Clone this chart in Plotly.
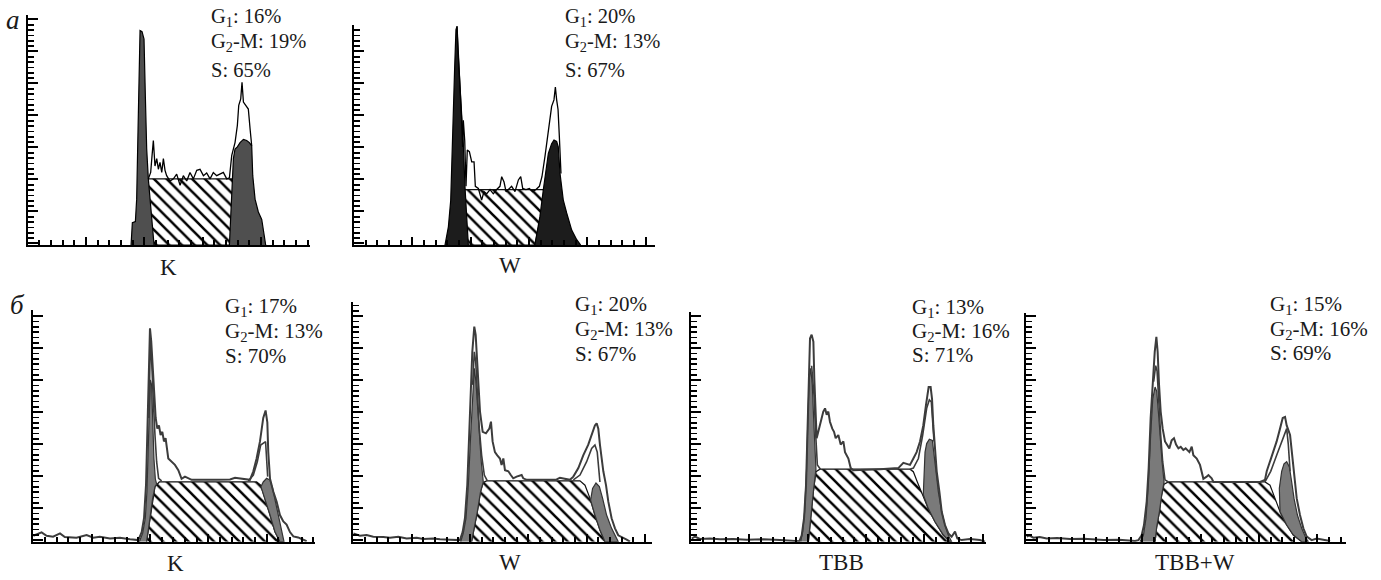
import plotly.graph_objects as go

W, H = 1381, 580

# ---------------- categories / labels ----------------
panel_names = ["K", "W", "K", "W", "TBB", "TBB+W"]
g1_pct = [16, 20, 17, 20, 13, 15]
g2m_pct = [19, 13, 13, 13, 16, 16]
s_pct = [65, 67, 70, 67, 71, 69]
row_letters = ["а", "б"]

# ---------------- panel a, K ----------------
aK_tot_x = [103.4, 105.4, 106.6, 107.7, 109.1, 110.6, 112, 113.4, 114.9, 116.3, 117.7, 119.1, 122, 124.9, 127.7, 130.6,
            133.4, 136.3, 139.1, 142, 144.9, 147.7, 150.6, 153.4, 156.3, 159.1, 162, 164.9, 167.7, 170.6, 172.9, 174.9,
            177.7, 179.7, 180.9, 182.6, 183.7, 184.9, 187.1, 189.1, 190.6, 192]
aK_tot_y = [62, 68, 84, 98, 74, 81, 71, 77.5, 68, 81, 70, 65, 60, 62, 66.5, 56, 65, 60, 68, 62, 70, 71, 65, 67.5, 62,
            68, 65, 66.5, 68, 62, 63, 84, 96, 112, 131, 137, 152.5, 134, 131, 127.5, 109, 93]
aK_g1_x = [88.6, 89.7, 92.3, 93.4, 94.6, 95.7, 96.3, 98, 99.7, 100.9, 102, 103.4, 108.3]
aK_g1_y = [0, 21, 22, 43, 110, 170, 201, 200, 193, 137, 90, 62, 0]
aK_g2_x = [172.9, 174.9, 176.3, 177.7, 179.7, 182, 184.9, 187.7, 190, 192, 192.9, 194.9, 197.7, 200.6, 202, 204]
aK_g2_y = [0, 49, 81, 90, 92, 96, 99, 98, 96, 93, 65, 43, 31, 24, 15, 0]
aK_s_x = [103.4, 179.1, 173.4, 108.3]
aK_s_y = [62, 62, 0, 0]

# ---------------- panel a, W ----------------
aW_tot_x = [88.3, 89.1, 90.3, 91.4, 92.3, 93.1, 93.7, 94.9, 96, 97.1, 98.9, 100.9, 102.9, 104, 106.6, 109.4, 111.4,
            113.7, 116.6, 119.4, 122.3, 125.1, 126.6, 128.6, 130.3, 132.3, 135.1, 138, 140.9, 142.9, 144.6, 147.4,
            150.3, 153.1, 156, 158.9, 161.1, 163.7, 166.6, 169.4, 171.4, 172.6, 173.7, 174.9, 176, 176.6, 177.4]
aW_tot_y = [205, 183, 161, 136, 117, 92, 117, 98, 55, 89, 87.5, 78, 78, 55, 53, 42, 50, 48, 52, 48, 52, 55, 64, 59,
            50, 52, 55, 50, 61, 64, 53, 52, 53, 50, 52, 55, 64, 83, 105, 130, 136, 148, 136, 127, 102, 89, 67]
aW_g1_x = [78, 80.9, 82.9, 84, 85.1, 86.3, 87.4, 88.3, 89.1, 90.3, 91.4, 92.6, 93.7, 95.1, 96.6, 98]
aW_g1_y = [0, 17, 42, 89, 136, 167, 202, 205, 183, 161, 136, 111, 95, 55, 30, 0]
aW_g2_x = [155, 159.4, 162.3, 164.6, 166.6, 169.4, 171.4, 173.7, 175.1, 176.6, 179.4, 182.3, 186.6, 190.9, 194.3]
aW_g2_y = [0, 27, 52, 73, 86, 95, 98.4, 97, 92, 67, 42, 30, 14, 5, 0]
aW_s_x = [95.1, 164.6, 155.1, 98]
aW_s_y = [52, 52, 0, 0]

# ---------------- panel б, K ----------------
bK_tot_x = [0, 2.9, 7.1, 11.4, 17, 22.9, 27, 37, 45.7, 51.4, 57, 65.7, 74.3, 82.9, 90, 92.9, 94.9, 96.6, 97.7, 98.9,
            100, 101.1, 102.3, 103.4, 104.9, 106.3, 107.7, 109.1, 110.6, 112, 113.4, 115.7, 118.6, 121.4, 124.3, 127.1,
            130, 135.7, 157, 168.6, 172.9, 185.7, 188.6, 191.4, 194.3, 195.7, 197.1, 199.1, 200.6, 201.4, 202.9,
            205.7, 208.6, 211.4, 214.3, 217.1, 220, 222.9, 227, 230, 234.3]
bK_tot_y = [5.6, 7, 8.75, 5.6, 4.7, 7.8, 4.4, 3.75, 6.25, 3.75, 4.7, 3, 3.75, 2.2, 1.5, 9, 22, 53, 100, 162, 200,
            187.5, 162, 137.5, 116, 106, 109, 100, 103, 94, 97, 78, 75, 72, 67, 59, 61, 58, 58, 58.4, 60, 58, 66, 78,
            94, 103, 116, 123, 112, 84, 59, 47, 37.5, 25, 19, 16, 9, 5, 4, 2.5, 0.6]
bK_g1fit_x = [99.1, 99.7, 100.3, 100.9, 101.7, 102.9, 104.3, 105.7, 107.4, 110]
bK_g1fit_y = [116, 162.5, 187.5, 184, 159, 131, 100, 75, 59.4, 57]
bK_g2fit_x = [184.3, 188.6, 192, 194.9, 199.1, 200, 200.9]
bK_g2fit_y = [57, 62.5, 75, 90.6, 93.75, 81, 61]
bK_g1_x = [90.9, 93.7, 96, 97.4, 98.6, 99.4, 100.3, 101.4, 102.3, 103.4, 104.6, 105.7, 104.3, 102.3, 100, 97.1]
bK_g1_y = [0, 7.8, 22, 47, 90.6, 128, 151.6, 147, 109, 78, 59, 54, 51.6, 40.6, 22, 0]
bK_g2_x = [195.1, 197.1, 200, 202.9, 205.1, 207.4, 210, 212.3, 214.3, 214.9, 211.4, 207.1, 202.9, 198.6, 195.1]
bK_g2_y = [51.6, 56, 59.4, 57.8, 50, 37.5, 23.4, 12.5, 3, 0, 0, 9.4, 25, 40.6, 51.6]
bK_s_x = [97.1, 100, 102.3, 104.3, 108, 191.4, 194.9, 198.6, 202.9, 207.1, 211.4]
bK_s_y = [0, 22, 40.6, 51.6, 56, 56, 53, 40.6, 25, 9.4, 0]

# ---------------- panel б, W ----------------
bW_tot_x = [0, 2.9, 5.7, 11.4, 17.1, 25.7, 31.4, 38.6, 45.7, 54.3, 60, 68.6, 74.3, 82.9, 90, 91.4, 93.7, 95.7, 97.7,
            100, 102, 103.7, 104.9, 105.7, 107.1, 108.6, 110.9, 113.7, 116.6, 118, 119.4, 121.4, 123.4, 125.7, 127.1,
            128.6, 130, 132.9, 135, 137.1, 140, 144.3, 145.7, 148.6, 174.3, 177.1, 185.7, 188.6, 192.9, 197.1, 201.4,
            204.3, 207.1, 208.6, 210, 211.4, 214.3, 216.6, 218.6, 221.4, 224.3, 227.1, 231.4, 234.3, 237.1]
bW_tot_y = [7.8, 6.9, 5.6, 6.25, 4.7, 4.4, 3.75, 4.7, 3, 3.75, 2.5, 3, 2.2, 1.9, 1.5, 1.5, 9, 22, 53, 116, 178,
            201.6, 194, 178, 147, 122, 103, 101.6, 106, 112.5, 94, 84, 81, 78, 72, 78, 67, 66, 62.5, 59.4, 61, 62.5,
            59.4, 58, 58.4, 60, 58, 61, 69, 81, 91, 100, 109, 111, 106, 91, 66, 53, 37.5, 22, 12.5, 6, 4, 2, 0]
bW_g1fit_x = [102.3, 103.7, 104.9, 106.3, 108, 110, 112.3, 114.9]
bW_g1fit_y = [147, 178, 169, 137.5, 106, 81, 62.5, 57]
bW_g2fit_x = [188.6, 194.3, 200, 204.3, 207.1, 209.1, 211.4]
bW_g2fit_y = [58, 62.5, 75, 87.5, 90.6, 84, 56]
bW_g1_x = [92, 94.3, 96.6, 98.6, 100.6, 102.3, 103.7, 105.1, 106.6, 108, 109.7, 111.4, 109.1, 106.3, 103.7, 101.4]
bW_g1_y = [0, 8, 22, 53, 100, 141, 162.5, 150, 122, 97, 75, 56, 47, 28, 12.5, 0]
bW_g2_x = [203.4, 205.1, 208, 210.9, 213.7, 217.1, 221.4, 225.1, 227.1, 215.7, 211.4, 207.1, 203.4]
bW_g2_y = [39, 50, 55, 51.6, 40.6, 25, 12.5, 4.7, 0, 0, 11, 25, 39]
bW_s_x = [101.4, 103.7, 106.3, 109.1, 111.4, 114.3, 194.3, 198.6, 202.9, 207.1, 211.4, 215.7]
bW_s_y = [0, 12.5, 28, 47, 55.6, 57, 57, 53, 40.6, 25, 11, 0]

# ---------------- panel б, TBB ----------------
bT_tot_x = [0.6, 3.4, 7.7, 16.3, 24.9, 36.3, 47.7, 62, 76.3, 87.7, 92.9, 94.9, 96.9, 98.6, 100, 100.9, 102, 103.4,
            104.9, 105.7, 106.6, 107.7, 109.1, 110.6, 112, 113.4, 114.9, 116.3, 117.7, 119.1, 121.1, 122.6, 124, 126.3,
            128.3, 130.6, 132, 134.9, 136.9, 139.1, 162, 177.7, 182, 187.7, 190.6, 193.4, 196.3, 199.1, 201.4, 202.6,
            203.7, 205.4, 206.6, 207.7, 209.1, 210.6, 212.9, 214.9, 217.7, 220.6, 223.4, 226.3, 228.3, 232, 239.1,
            247.7, 252]
bT_tot_y = [3, 4.7, 2.5, 3, 2.2, 2.5, 1.9, 2.2, 1.5, 1.25, 0.5, 6, 22, 53, 116, 162.5, 190.6, 194, 187.5, 153, 116,
            97, 103, 109, 116, 122, 125, 119, 122, 112.5, 106, 103, 97, 100, 91, 94, 84, 78, 69, 67, 68, 69, 74, 72,
            78, 84, 94, 109, 128, 137.5, 145, 145, 134, 109, 87.5, 66, 47, 28, 15.6, 7.8, 4.7, 9.4, 3, 1.5, 2.5, 1.5, 0]
bT_g1fit_x = [103.4, 105.4, 106.9, 108.3, 111]
bT_g1fit_y = [165, 137.5, 100, 72, 68]
bT_g2fit_x = [187.7, 190.6, 194.9, 198.6, 202, 204.3, 206, 207.1, 208.3]
bT_g2fit_y = [68, 69, 78, 100, 125, 133, 131, 116, 94]
bT_g1_x = [94, 95.7, 97.4, 99.1, 100.3, 101.4, 102.6, 104, 105.1, 106.3, 107.1, 104.9, 102.9, 101.4, 100.6]
bT_g1_y = [0, 9.4, 28, 69, 122, 153, 162.5, 147, 116, 91, 68, 47, 25, 9.4, 0]
bT_g2_x = [199.1, 199.7, 200.6, 202, 204.3, 206.9, 208.3, 210, 212, 214.9, 217.7, 220.6, 223.4, 222, 216.3, 209.1,
           203.4, 199.1]
bT_g2_y = [44, 66, 84, 92, 96, 95, 84, 66, 47, 28, 15.6, 6, 0, 0, 6.25, 18.75, 31, 44]
bT_s_x = [100.6, 101.4, 102.9, 104.9, 107.1, 110.6, 187.7, 190.6, 194, 198.6, 203.4, 209.1, 216.3, 222]
bT_s_y = [0, 9.4, 25, 47, 65.6, 68, 68, 65.6, 56, 43.75, 31, 18.75, 6.25, 0]

# ---------------- panel б, TBB+W ----------------
bTW_tot_x = [0.9, 3, 6.6, 12, 18, 27, 38, 50, 66.6, 80, 93.7, 96.6, 99.4, 101.4, 103.7, 105.4, 107.1, 108.9, 110.6,
             112, 113.1, 114.3, 115.7, 117.4, 119.4, 123.1, 125.1, 127.1, 128.9, 130.9, 132.9, 135.1, 137.1, 140.3,
             142.3, 143.7, 146.6, 149.4, 152.3, 155.1, 156.6, 159.4, 160.9, 200.9, 205.1, 206.6, 209.4, 212.3, 215.1,
             218, 220.3, 222.3, 223.7, 226.6, 228, 230, 232.3, 235.1, 238, 240.9, 245.1, 249.4, 255.1, 260.9]
bTW_tot_y = [4.7, 6, 3.75, 4.4, 3, 3.4, 2.5, 2.8, 1.5, 1.9, 0.6, 1.5, 6, 15.6, 37.5, 69, 116, 153, 178, 192, 178,
             147, 122, 106, 94, 87.5, 95, 97, 91, 87.5, 89, 86, 87.5, 84, 89, 81, 78, 72, 59, 61, 62.5, 59.4, 56, 56,
             58, 66, 75, 84, 94, 106, 116, 117, 109, 100, 84, 62.5, 40.6, 25, 12.5, 4.7, 1.5, 3, 1.5, 0.6]
bTW_g1fit_x = [109.7, 111.4, 112.6, 114, 115.7, 117.4, 119.4, 122.3]
bTW_g1fit_y = [150, 165, 160, 130, 100, 75, 58, 56]
bTW_g2fit_x = [205.1, 210, 215.1, 219.4, 222.3, 223.7, 225.1, 226.6]
bTW_g2fit_y = [56, 66, 81, 94, 103, 106, 91, 66]
bTW_g1_x = [98, 100.9, 103.1, 105.1, 107.1, 108.9, 110.9, 112.3, 113.7, 115.1, 116.9, 118.6, 116.6, 114.6, 112.3, 110.9]
bTW_g1_y = [0, 6, 22, 53, 100, 134, 145, 141, 122, 97, 75, 56, 44, 28, 14, 0]
bTW_g2_x = [218, 217.4, 219.4, 221.4, 223.7, 226, 228, 230, 232.9, 236.6, 240.3, 242.3, 236.6, 229.4, 223.7, 218]
bTW_g2_y = [28, 50, 66, 73, 75, 70, 56, 40.6, 25, 12.5, 3, 0, 0, 6.25, 15.6, 28]
bTW_s_x = [110.9, 112.3, 114.6, 116.6, 118.6, 122.3, 205.1, 209.4, 213.7, 218, 223.7, 229.4, 236.6]
bTW_s_y = [0, 14, 28, 44, 54, 56, 56, 53, 40.6, 28, 15.6, 6.25, 0]

panels = [
    dict(tot=(aK_tot_x, aK_tot_y), g1=(aK_g1_x, aK_g1_y), g2=(aK_g2_x, aK_g2_y), s=(aK_s_x, aK_s_y), fits=[]),
    dict(tot=(aW_tot_x, aW_tot_y), g1=(aW_g1_x, aW_g1_y), g2=(aW_g2_x, aW_g2_y), s=(aW_s_x, aW_s_y), fits=[]),
    dict(tot=(bK_tot_x, bK_tot_y), g1=(bK_g1_x, bK_g1_y), g2=(bK_g2_x, bK_g2_y), s=(bK_s_x, bK_s_y),
         fits=[(bK_g1fit_x, bK_g1fit_y), (bK_g2fit_x, bK_g2fit_y)]),
    dict(tot=(bW_tot_x, bW_tot_y), g1=(bW_g1_x, bW_g1_y), g2=(bW_g2_x, bW_g2_y), s=(bW_s_x, bW_s_y),
         fits=[(bW_g1fit_x, bW_g1fit_y), (bW_g2fit_x, bW_g2fit_y)]),
    dict(tot=(bT_tot_x, bT_tot_y), g1=(bT_g1_x, bT_g1_y), g2=(bT_g2_x, bT_g2_y), s=(bT_s_x, bT_s_y),
         fits=[(bT_g1fit_x, bT_g1fit_y), (bT_g2fit_x, bT_g2fit_y)]),
    dict(tot=(bTW_tot_x, bTW_tot_y), g1=(bTW_g1_x, bTW_g1_y), g2=(bTW_g2_x, bTW_g2_y), s=(bTW_s_x, bTW_s_y),
         fits=[(bTW_g1fit_x, bTW_g1fit_y), (bTW_g2fit_x, bTW_g2fit_y)]),
]

# ---------------- layout geometry (pixels) ----------------
geom = [  # x_left, x_right, y_baseline, y_top
    (27.7, 310, 245, 14.5),
    (354, 655, 245, 25),
    (33.3, 315, 541.7, 310),
    (353.3, 652.3, 541.7, 301.7),
    (691, 986, 541.7, 311.7),
    (1025.7, 1346, 541.7, 313),
]
PX_CH = 35 / 30.0   # pixels per channel
PX_N = 3.2 / 3.0    # pixels per count
text_pos = [(209, [18, 43, 70]), (563, [18, 43, 70]), (223, [307, 332, 356]),
            (573, [305, 330, 354]), (910, [308, 332, 355]), (1268, [305, 330, 353])]
text_size = [20.5, 20.5, 21, 21, 21, 21]
label_pos = [(168, 267), (510, 266), (175, 563), (510, 562), (841, 562), (1195, 562)]

SERIF = "Liberation Serif, Times New Roman, serif"
fig = go.Figure()
layout = dict(width=W, height=H, margin=dict(l=0, r=0, t=0, b=0), paper_bgcolor="white",
              plot_bgcolor="rgba(0,0,0,0)", showlegend=False)
annotations = []

for i, p in enumerate(panels):
    k = i + 1
    xa = "x" if k == 1 else f"x{k}"
    ya = "y" if k == 1 else f"y{k}"
    top_row = i < 2
    x0, x1, yb, yt = geom[i]
    xr = (x1 - x0) / PX_CH
    yr = (yb - yt) / PX_N
    peak_fill = "#4f4f4f" if i == 0 else ("#1c1c1c" if i == 1 else "#7a7a7a")
    peak_line = "black" if top_row else "#333333"
    out_col = "black" if top_row else "#3c3c3c"
    out_w = 1.3 if top_row else 2

    # hatched S-phase region
    fig.add_trace(go.Scatter(x=p["s"][0], y=p["s"][1], xaxis=xa, yaxis=ya, mode="lines", fill="toself",
                             fillcolor="white", line=dict(color="#111", width=1.2),
                             fillpattern=dict(shape="\\", fgcolor="black", bgcolor="white", size=9,
                                              solidity=0.28, fgopacity=1),
                             hoverinfo="skip"))
    # G1 and G2 peaks
    for key in ("g1", "g2"):
        fig.add_trace(go.Scatter(x=p[key][0], y=p[key][1], xaxis=xa, yaxis=ya, mode="lines", fill="toself",
                                 fillcolor=peak_fill, line=dict(color=peak_line, width=1.2), hoverinfo="skip"))
    # fitted curves
    for fx, fy in p["fits"]:
        fig.add_trace(go.Scatter(x=fx, y=fy, xaxis=xa, yaxis=ya, mode="lines",
                                 line=dict(color="#3c3c3c", width=1.6), hoverinfo="skip"))
    # raw histogram outline
    fig.add_trace(go.Scatter(x=p["tot"][0], y=p["tot"][1], xaxis=xa, yaxis=ya, mode="lines",
                             line=dict(color=out_col, width=out_w), hoverinfo="skip"))

    axis_common = dict(showgrid=False, zeroline=False, showticklabels=False, showline=True,
                       linecolor="black", linewidth=2.2, ticks="inside", tickcolor="black", tickwidth=2,
                       fixedrange=True)
    layout["xaxis" if k == 1 else f"xaxis{k}"] = dict(
        axis_common, domain=[x0 / W, x1 / W], range=[0, xr], anchor=ya,
        tickmode="linear", tick0=0, dtick=50, ticklen=8,
        minor=dict(ticks="inside", dtick=10, tick0=0, ticklen=5, tickcolor="black", tickwidth=1.8, showgrid=False))
    layout["yaxis" if k == 1 else f"yaxis{k}"] = dict(
        axis_common, domain=[1 - yb / H, 1 - yt / H], range=[0, yr], anchor=xa,
        tickmode="linear", tick0=1.5, dtick=30, ticklen=10,
        minor=dict(ticks="inside", dtick=5, tick0=1.5, ticklen=6, tickcolor="black", tickwidth=1.8, showgrid=False))

    tx, tys = text_pos[i]
    texts = [f"G<sub>1</sub>: {g1_pct[i]}%", f"G<sub>2</sub>-M: {g2m_pct[i]}%", f"S: {s_pct[i]}%"]
    for t, ty in zip(texts, tys):
        annotations.append(dict(text=t, x=tx / W, y=1 - ty / H, xref="paper", yref="paper", xanchor="left",
                                yanchor="middle", showarrow=False,
                                font=dict(family=SERIF, size=text_size[i], color="#1a1a1a")))
    lx, ly = label_pos[i]
    annotations.append(dict(text=panel_names[i], x=lx / W, y=1 - ly / H, xref="paper", yref="paper",
                            xanchor="center", yanchor="middle", showarrow=False,
                            font=dict(family=SERIF, size=23, color="#1a1a1a")))

for letter, (lx, ly) in zip(row_letters, [(13, 20), (17, 305)]):
    annotations.append(dict(text=f"<i>{letter}</i>", x=lx / W, y=1 - ly / H, xref="paper", yref="paper",
                            xanchor="center", yanchor="middle", showarrow=False,
                            font=dict(family=SERIF, size=27, color="#1a1a1a")))

layout["annotations"] = annotations
fig.update_layout(**layout)
fig.write_html("out.html", config={"displayModeBar": False, "staticPlot": True},
               post_script="document.body.style.margin='0';document.body.style.overflow='hidden';")
